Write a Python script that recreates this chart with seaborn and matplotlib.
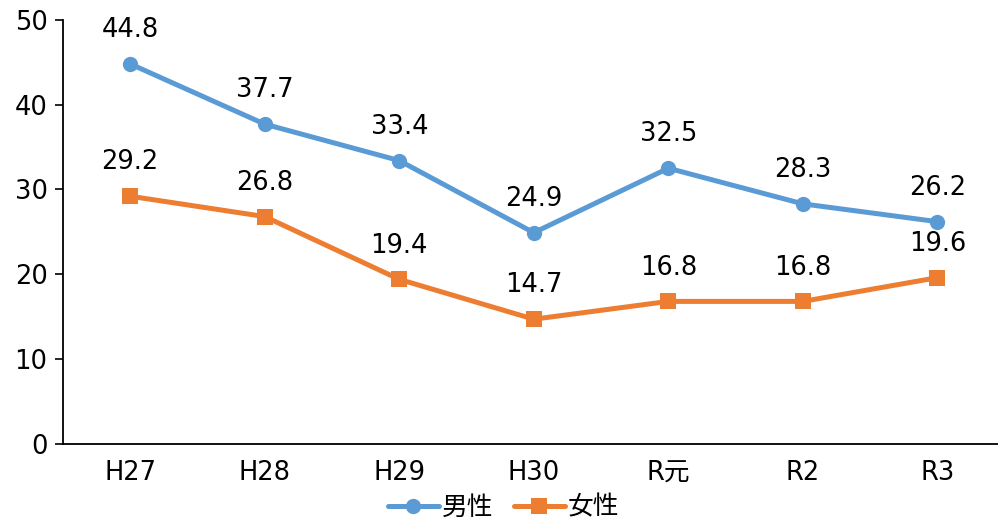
import pandas as pd
import matplotlib.pyplot as plt
import seaborn as sns

sns.set_style("white")
plt.rcParams["font.family"] = ["DejaVu Sans", "Noto Sans CJK JP"]
plt.rcParams["text.color"] = "black"
plt.rcParams["xtick.color"] = "black"
plt.rcParams["ytick.color"] = "black"

years = ["H27", "H28", "H29", "H30", "R元", "R2", "R3"]
male = [44.8, 37.7, 33.4, 24.9, 32.5, 28.3, 26.2]
female = [29.2, 26.8, 19.4, 14.7, 16.8, 16.8, 19.6]

df = pd.DataFrame({"year": years * 2,
                   "value": male + female,
                   "sex": ["男性"] * len(years) + ["女性"] * len(years)})

fig = plt.figure(figsize=(9.98, 5.21), dpi=100)
ax = fig.add_axes([0.063, 0.148, 0.937, 0.814])

palette = {"男性": "#5B9BD5", "女性": "#ED7D31"}
sns.lineplot(data=df, x="year", y="value", hue="sex", style="sex",
             markers={"男性": "o", "女性": "s"}, dashes=False,
             palette=palette, linewidth=3.6, markersize=11, markeredgewidth=0,
             sort=False, ax=ax)

fs = 18.5
for i, (m, f) in enumerate(zip(male, female)):
    ax.annotate(f"{m}", (i, m), xytext=(0, 15), textcoords="offset points",
                ha="center", va="bottom", fontsize=fs)
    ax.annotate(f"{f}", (i, f), xytext=(0, 15), textcoords="offset points",
                ha="center", va="bottom", fontsize=fs)

ax.set_ylim(0, 50)
ax.set_xlim(-0.5, 6.45)
ax.set_yticks(range(0, 51, 10))
ax.set_xlabel("")
ax.set_ylabel("")
ax.tick_params(axis="y", labelsize=fs, length=6, width=1.2, left=True, pad=5)
ax.tick_params(axis="x", labelsize=fs, bottom=False, pad=8)
for s in ["top", "right"]:
    ax.spines[s].set_visible(False)
for s in ["left", "bottom"]:
    ax.spines[s].set_color("black")
    ax.spines[s].set_linewidth(1.3)

leg = ax.legend(loc="lower center", bbox_to_anchor=(0.471, -0.205), ncol=2,
                frameon=False, fontsize=fs, handlelength=2.0, markerscale=1.0,
                handletextpad=0.1, columnspacing=0.8, borderaxespad=0)

plt.savefig("out.png", dpi=100)
plt.close()
